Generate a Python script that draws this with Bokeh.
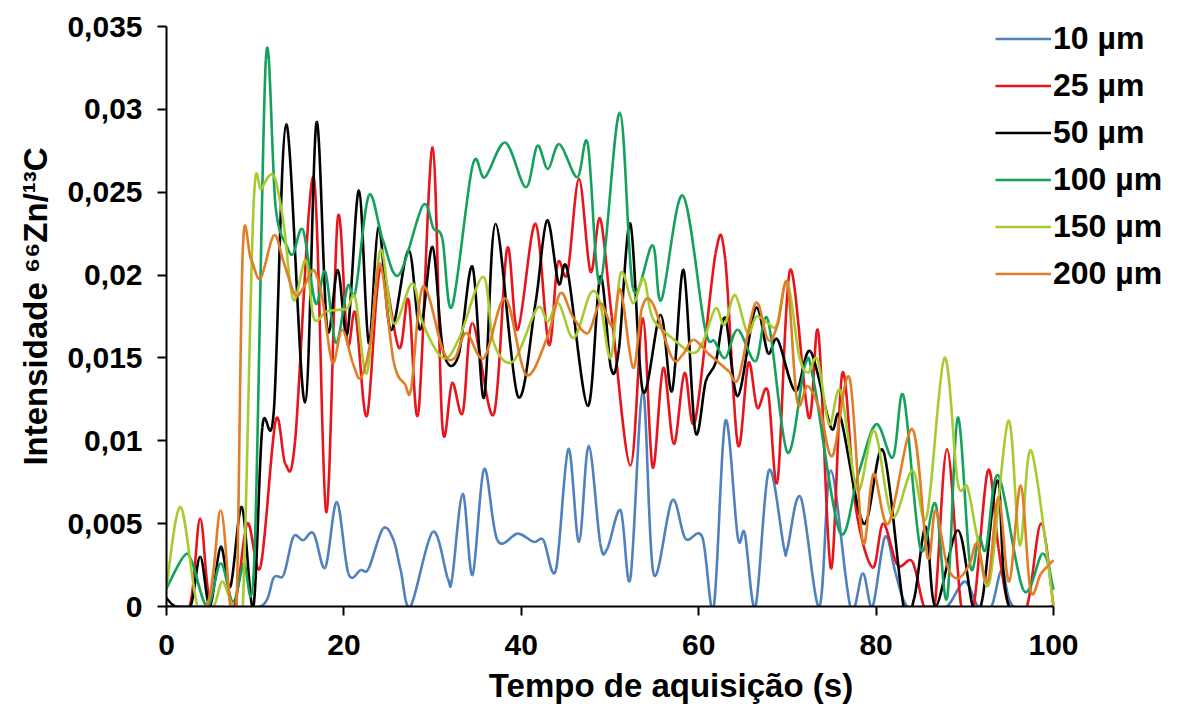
import numpy as np
from bokeh.plotting import figure
from bokeh.models import Range1d, FixedTicker, Legend, LegendItem
from bokeh.embed import file_html
from bokeh.resources import INLINE

# ---------------- data ----------------
x_ticks = [0, 20, 40, 60, 80, 100]
y_ticks = [0, 0.005, 0.01, 0.015, 0.02, 0.025, 0.03, 0.035]
y_tick_labels = ["0", "0,005", "0,01", "0,015", "0,02", "0,025", "0,03", "0,035"]
series_names = ["10 µm", "25 µm", "50 µm", "100 µm", "150 µm", "200 µm"]

t_10 = [0, 5, 10.6, 12.1, 13.2, 14.3, 15.4, 16.6, 17.9, 19.2,
        20.5, 21.9, 22.8, 24.4, 25.6, 26.4, 27.5, 30.0, 31.7, 32.2,
        33.4, 34.5, 35.8, 37.3, 39.6, 41.4, 42.5, 43.9, 45.3, 46.5,
        47.6, 48.9, 49.7, 51.2, 52.3, 53.7, 54.9, 57.0, 58.5, 60.4,
        61.7, 63.0, 64.4, 65.2, 66.4, 67.9, 69.6, 70.0, 71.5, 73.6,
        74.9, 77.1, 78.5, 79.6, 81.0, 82.2, 83.5, 86.0, 88.0, 90.0,
        91.5, 93.0, 94.2, 95.5, 100]
v_10 = [0, 0, 0, 0.00175, 0.0019, 0.0042, 0.0040, 0.0044, 0.00235, 0.0063,
        0.0020, 0.0022, 0.0023, 0.0047, 0.0040, 0.0022, 0, 0.0045, 0.0017, 0.0017,
        0.0068, 0.0019, 0.0083, 0.0040, 0.0044, 0.0039, 0.0040, 0.0022, 0.0095, 0.0039,
        0.0097, 0.0038, 0.0035, 0.0058, 0.0017, 0.0130, 0.0020, 0.0064, 0.0041, 0.0042,
        0, 0.0112, 0.0042, 0.0044, 0, 0.0082, 0.0036, 0.0035, 0.0066, 0,
        0.0082, 0, 0.0020, 0, 0.0042, 0.0020, 0, 0, 0, 0.0015,
        0, 0, 0.0022, 0, 0]

t_25 = [0, 2.6, 3.8, 5.0, 7.6, 9.1, 10.6, 12.3, 13.4, 14.5,
        16.6, 18.0, 19.3, 20.4, 21.3, 22.6, 24.1, 26.2, 27.3, 28.4,
        30.0, 31.1, 32.2, 33.4, 34.5, 36.9, 38.4, 39.6, 41.6, 43.1,
        44.1, 45.2, 46.5, 47.8, 48.9, 50.2, 52.3, 53.7, 54.8, 56.0,
        57.2, 58.4, 59.6, 61.9, 63.0, 64.4, 65.6, 66.6, 67.8, 68.9,
        70.3, 72.4, 73.5, 74.9, 76.2, 77.7, 79.6, 80.8, 82.4, 84.1,
        85.4, 86.6, 88.0, 89.6, 91.0, 92.6, 93.8, 95.0, 97.0, 98.6,
        100]
v_25 = [0, 0, 0.0053, 0, 0, 0.0050, 0.0024, 0.0112, 0.0086, 0.0100,
        0.0259, 0.0057, 0.0234, 0.0159, 0.0177, 0.0115, 0.0204, 0.0156, 0.0185, 0.0117,
        0.0277, 0.0109, 0.0135, 0.0117, 0.0171, 0.0116, 0.0216, 0.0167, 0.0231, 0.0158,
        0.0207, 0.0201, 0.0258, 0.0202, 0.0234, 0.0175, 0.0085, 0.0174, 0.0084, 0.0144,
        0.0098, 0.0141, 0.0112, 0.0213, 0.0209, 0.0098, 0.0147, 0.0120, 0.0130, 0.0076,
        0.0203, 0.0114, 0.0165, 0.0023, 0.0141, 0.0060, 0.00235, 0.0050, 0.0025, 0.0027,
        0, 0, 0.0095, 0, 0, 0.0082, 0.0035, 0, 0, 0.0050,
        0]

t_50 = [0, 1.0, 2.7, 3.8, 4.9, 6.1, 7.2, 8.5, 9.8, 10.8,
        12.1, 13.5, 15.6, 16.9, 18.1, 19.3, 20.4, 21.7, 22.8, 23.9,
        25.3, 27.3, 28.6, 30.0, 31.2, 32.9, 34.5, 35.8, 37.1, 39.6,
        41.6, 42.9, 44.2, 45.2, 47.5, 48.9, 50.1, 51.0, 52.3, 53.7,
        55.7, 57.0, 58.3, 59.6, 60.8, 61.9, 63.0, 64.4, 66.4, 67.8,
        68.9, 70.9, 72.6, 74.9, 76.0, 78.6, 80.8, 83.1, 84.3, 85.6,
        86.7, 89.2, 90.9, 92.0, 93.7, 95.0, 100]
v_50 = [0.0005, 0, 0, 0.0030, 0, 0.0036, 0.0012, 0.0060, 0, 0.0108,
        0.0118, 0.0291, 0.0123, 0.0292, 0.0168, 0.0203, 0.0165, 0.0251, 0.0159, 0.0229,
        0.0167, 0.0215, 0.0167, 0.0217, 0.0154, 0.0151, 0.0205, 0.0126, 0.0231, 0.0127,
        0.0183, 0.0233, 0.0195, 0.0203, 0.0121, 0.0199, 0.0144, 0.0155, 0.0231, 0.0130,
        0.0176, 0.0130, 0.0203, 0.0106, 0.0136, 0.0147, 0.0174, 0.0127, 0.0180, 0.0153,
        0.0161, 0.0130, 0.0154, 0.0108, 0.0114, 0.0050, 0.0094, 0, 0.0005, 0.0048,
        0, 0.0046, 0, 0.0005, 0.0076, 0, 0]

t_100 = [0, 1.9, 2.8, 4.6, 6.1, 7.5, 8.7, 9.9, 11.2, 12.3,
         13.6, 14.3, 15.4, 16.8, 17.9, 19.1, 20.4, 21.3, 22.8, 24.4,
         26.2, 28.9, 30.1, 31.1, 32.2, 34.5, 35.9, 38.2, 40.5, 41.8,
         43.0, 44.3, 46.3, 47.5, 48.9, 51.1, 52.6, 54.8, 55.8, 58.2,
         60.7, 61.8, 63.0, 64.4, 66.4, 67.8, 70.0, 72.0, 73.0, 75.9,
         78.0, 80.0, 81.9, 83.1, 85.0, 86.7, 88.0, 89.2, 90.6, 91.6,
         92.4, 93.8, 96.6, 98.8, 100]
v_100 = [0.0011, 0.0030, 0.0028, 0, 0.0026, 0.0003, 0.0026, 0.0028, 0.0330, 0.0241,
         0.0217, 0.0213, 0.0227, 0.0183, 0.0202, 0.0159, 0.0193, 0.0190, 0.0248, 0.0221,
         0.0200, 0.0242, 0.0228, 0.0222, 0.0181, 0.0266, 0.0259, 0.0280, 0.0253, 0.0278,
         0.0264, 0.0279, 0.0259, 0.0279, 0.0195, 0.0298, 0.0192, 0.0218, 0.0185, 0.0248,
         0.0168, 0.0160, 0.0150, 0.0167, 0.0148, 0.0173, 0.0093, 0.0146, 0.0135, 0.0045,
         0.0080, 0.0110, 0.0090, 0.0127, 0.0035, 0.0062, 0.0005, 0.0114, 0.0025, 0.0042,
         0.0035, 0.0079, 0.0010, 0.0032, 0.0010]

t_150 = [0, 1.6, 3.5, 5.3, 6.3, 7.5, 8.6, 9.8, 10.7, 12.1,
         13.2, 14.3, 15.7, 16.6, 18.0, 19.3, 20.4, 21.3, 22.6, 24.1,
         25.6, 27.7, 28.9, 31.2, 33.0, 35.7, 36.9, 39.1, 41.8, 43.0,
         44.2, 45.9, 47.8, 48.9, 50.1, 51.2, 52.6, 53.8, 54.8, 57.0,
         59.3, 60.5, 61.9, 62.9, 64.1, 65.5, 66.5, 67.8, 68.8, 70.0,
         71.3, 72.3, 73.4, 74.7, 76.0, 77.9, 79.8, 81.8, 84.1, 85.7,
         87.7, 89.2, 90.3, 91.4, 92.8, 94.9, 96.2, 97.5, 100]
v_150 = [0.0012, 0.0060, 0, 0, 0.0015, 0, 0, 0.0240, 0.0252, 0.0260,
         0.0231, 0.0185, 0.0209, 0.0174, 0.0178, 0.0179, 0.0180, 0.0186, 0.0141, 0.0215,
         0.0171, 0.0195, 0.0171, 0.0150, 0.0162, 0.0199, 0.0159, 0.0148, 0.0180, 0.0172,
         0.0183, 0.0162, 0.0189, 0.0183, 0.0150, 0.0201, 0.0183, 0.0198, 0.0174, 0.0162,
         0.0153, 0.0160, 0.0180, 0.0170, 0.0188, 0.0165, 0.0175, 0.0171, 0.0170, 0.0196,
         0.0152, 0.0141, 0.0149, 0.0110, 0.0130, 0.0070, 0.0106, 0.0054, 0.0082, 0.0054,
         0.0150, 0.0075, 0.0072, 0.0042, 0.0015, 0.0112, 0.0037, 0.0094, 0]

t_200 = [0, 4.5, 6.1, 7.2, 7.9, 8.6, 9.5, 10.6, 12.1, 13.2,
         14.5, 15.5, 16.6, 17.6, 18.7, 19.8, 21.0, 21.9, 23.0, 24.1,
         25.6, 26.9, 27.6, 28.9, 31.2, 32.5, 33.8, 35.8, 38.2, 40.5,
         42.9, 44.4, 45.8, 47.5, 48.9, 50.3, 51.2, 52.6, 53.6, 54.8,
         57.0, 58.2, 59.4, 61.0, 62.1, 63.4, 64.5, 66.4, 67.8, 68.9,
         70.0, 71.1, 72.3, 73.7, 75.1, 77.0, 78.5, 79.7, 81.4, 84.1,
         85.8, 86.7, 88.0, 89.2, 90.5, 91.4, 92.6, 93.8, 95.0, 96.3,
         97.4, 98.6, 100]
v_200 = [0, 0, 0.0058, 0, 0, 0.0215, 0.0210, 0.0198, 0.0224, 0.0208,
         0.0188, 0.0193, 0.0203, 0.0185, 0.0147, 0.0167, 0.0147, 0.0138, 0.0160, 0.0207,
         0.0148, 0.0134, 0.0132, 0.0193, 0.0154, 0.0150, 0.0165, 0.0150, 0.0186, 0.0140,
         0.0162, 0.0189, 0.0175, 0.0165, 0.0183, 0.0169, 0.0191, 0.0144, 0.0180, 0.0183,
         0.0150, 0.0152, 0.0161, 0.0153, 0.0148, 0.0142, 0.0138, 0.0183, 0.0161, 0.0170,
         0.0195, 0.0124, 0.0133, 0.0118, 0.0091, 0.0138, 0.0039, 0.0080, 0.0050, 0.0107,
         0.0030, 0.0058, 0.0025, 0.0017, 0.0025, 0.0038, 0.0015, 0.0066, 0.0015, 0.0073,
         0.0010, 0.0020, 0.0028]

colors = ["#4F81BD", "#E8141C", "#000000", "#13A15C", "#A6CB2E", "#E07D26"]
series = [(t_10, v_10), (t_25, v_25), (t_50, v_50),
          (t_100, v_100), (t_150, v_150), (t_200, v_200)]

FONT = "Liberation Sans"

# layout (pixels): the plot frame spans the data area plus the legend column;
# the axes themselves are bounded to 0..100 and 0..0.035 as in the reference
W, H = 1180, 718
LEFT, TOP, BOTTOM, RIGHT = 166, 6, 112, 5
X100_PX = 1053   # screen position of x = 100 in the reference
Y035_PX = 26     # screen position of y = 0.035 in the reference
Y0_PX = H - BOTTOM
x_end = 100.0 * (W - LEFT - RIGHT) / (X100_PX - LEFT)
y_end = 0.035 * (Y0_PX - TOP) / (Y0_PX - Y035_PX)


def smooth_segments(t, v, k=1.0 / 6.0):
    """Catmull-Rom style cubic Bezier segments through the data points
    (like a spreadsheet 'smoothed line')."""
    x = np.asarray(t, float)
    y = np.asarray(v, float)
    n = len(x)
    xp = np.concatenate([[x[0]], x, [x[-1]]])
    yp = np.concatenate([[y[0]], y, [y[-1]]])
    x0, y0, x1, y1 = x[:-1], y[:-1], x[1:], y[1:]
    cx0 = x0 + (xp[2:n + 1] - xp[0:n - 1]) * k
    cy0 = y0 + (yp[2:n + 1] - yp[0:n - 1]) * k
    cx1 = x1 - (xp[3:n + 2] - xp[1:n]) * k
    cy1 = y1 - (yp[3:n + 2] - yp[1:n]) * k
    return dict(x0=x0, y0=y0, x1=x1, y1=y1, cx0=cx0, cy0=cy0, cx1=cx1, cy1=cy1)


p = figure(width=W, height=H, output_backend="svg", toolbar_location=None,
           x_range=Range1d(0, x_end), y_range=Range1d(0, y_end),
           min_border_left=LEFT, min_border_right=RIGHT,
           min_border_top=TOP, min_border_bottom=BOTTOM)
p.outline_line_color = None
p.xgrid.visible = False
p.ygrid.visible = False
p.background_fill_color = "white"
p.border_fill_color = "white"

items = []
for (t, v), c, name in zip(series, colors, series_names):
    seg = smooth_segments(t, v)
    r = p.bezier(x0=seg["x0"], y0=seg["y0"], x1=seg["x1"], y1=seg["y1"],
                 cx0=seg["cx0"], cy0=seg["cy0"], cx1=seg["cx1"], cy1=seg["cy1"],
                 line_color=c, line_width=2.6)
    items.append(LegendItem(label=name, renderers=[r]))

legend = Legend(items=items, location=(829, 314),
                label_text_font=FONT, label_text_font_style="bold",
                label_text_font_size="32px", label_text_color="black",
                glyph_width=56, glyph_height=37, label_height=37,
                spacing=10, padding=0, margin=0, label_standoff=2,
                border_line_alpha=0, background_fill_alpha=0)
p.add_layout(legend)

# axes
p.xaxis.ticker = FixedTicker(ticks=x_ticks)
p.xaxis.bounds = (0, 100)
p.yaxis.ticker = FixedTicker(ticks=y_ticks)
p.yaxis.bounds = (0, 0.035)
p.yaxis.major_label_overrides = {tk: lb for tk, lb in zip(y_ticks, y_tick_labels)}
for ax in (p.xaxis[0], p.yaxis[0]):
    ax.axis_line_color = "black"
    ax.axis_line_width = 2
    ax.major_tick_line_color = "black"
    ax.major_tick_line_width = 2
    ax.major_tick_in = 0
    ax.major_tick_out = 9
    ax.minor_tick_line_color = None
    ax.major_label_text_font = FONT
    ax.major_label_text_font_style = "bold"
    ax.major_label_text_font_size = "30px"
    ax.major_label_text_color = "black"
    ax.axis_label_text_font = FONT
    ax.axis_label_text_font_style = "bold"
    ax.axis_label_text_font_size = "33px"
    ax.axis_label_text_color = "black"

p.xaxis.axis_label = "Tempo de aquisição (s)"
p.yaxis.axis_label = "Intensidade \u2076\u2076Zn/\u00b9\u00b3C"
p.xaxis.major_label_standoff = 19
p.yaxis.major_label_standoff = 15
p.xaxis.axis_label_standoff = 9
p.yaxis.axis_label_standoff = 10

open("out.html", "w").write(file_html(p, INLINE))
